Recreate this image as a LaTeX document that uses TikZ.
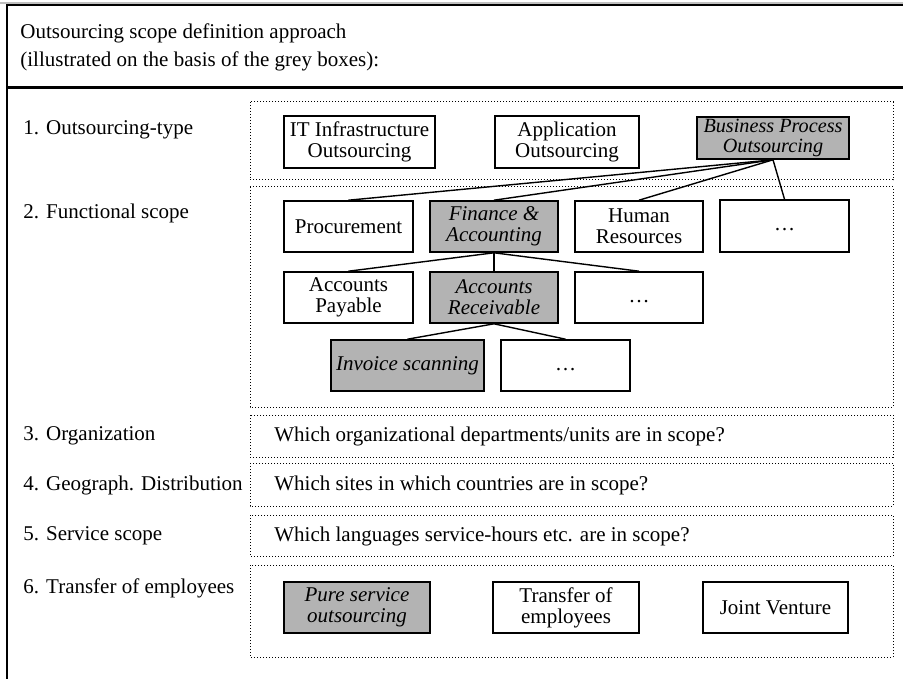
\documentclass[tikz,border=0pt]{standalone}
\usepackage{fontspec}
\setmainfont{Liberation Serif}
\definecolor{boxgrey}{RGB}{179,179,179}
\newcommand\boxat[7]{\node[#7, minimum width={(#4-#2)*0.5pt}, minimum height={(#5-#3)*0.5pt}] (#1) at ({(#2+#4)/2},{(#3+#5)/2}) {#6};}
\newcommand\ellip{\vphantom{Ag}…}
\begin{document}
\begin{tikzpicture}[x=0.5pt,y=-0.5pt,
  every node/.style={font=\fontsize{10.5}{10.5}\selectfont, inner sep=0pt},
  bx/.style={draw=black, line width=0.8pt, align=center, fill=white},
  gbx/.style={bx, fill=boxgrey, font=\fontsize{10.5}{10.5}\selectfont\itshape},
  zone/.style={draw=black, densely dotted, line width=0.5pt},
  lbl/.style={anchor=west},
  link/.style={draw=black, line width=0.7pt}]
\useasboundingbox (0,0) rectangle (903,679);
% frame
\draw[gray!50, line width=0.6pt] (0,3) -- (903,3);
\draw[line width=1pt] (6,5.5) -- (903,5.5);
\draw[line width=1pt] (6.5,5) -- (6.5,679);
\draw[line width=1.2pt] (6,87.5) -- (903,87.5);
% title
\node[anchor=west, align=left, font=\fontsize{10.5}{14}\selectfont] (title) at (20,47)
  {Outsourcing scope definition approach\\(illustrated on the basis of the grey boxes):};
% zones
\draw[zone] (250,102) rectangle (893,180);
\draw[zone] (250,187) rectangle (893,407);
\draw[zone] (250,415) rectangle (893,457);
\draw[zone] (250,463) rectangle (893,506);
\draw[zone] (250,515) rectangle (893,556);
\draw[zone] (250,565) rectangle (893,657);
% row labels
\node[lbl] (l1) at (23,130) {1. Outsourcing-type};
\node[lbl] (l2) at (23,213) {2. Functional scope};
\node[lbl] (l3) at (23,436) {3. Organization};
\node[lbl] (l4) at (23,485) {4. Geograph. Distribution};
\node[lbl] (l5) at (23,536) {5. Service scope};
\node[lbl] (l6) at (23,588) {6. Transfer of employees};
% questions
\node[lbl] (q3) at (274,436) {Which organizational departments/units are in scope?};
\node[lbl] (q4) at (274,485) {Which sites in which countries are in scope?};
\node[lbl] (q5) at (274,536) {Which languages service-hours etc. are in scope?};
% boxes
\boxat{it}{284}{116}{435}{168}{IT Infrastructure\\Outsourcing}{bx}
\boxat{app}{495}{116}{639}{168}{Application\\Outsourcing}{bx}
\boxat{bpo}{697}{117}{849}{159}{Business Process\\Outsourcing}{gbx, font=\fontsize{10.1}{10}\selectfont\itshape}
\boxat{proc}{284}{201}{413}{252}{Procurement}{bx}
\boxat{fin}{430}{201}{558}{252}{Finance \&\\Accounting}{gbx}
\boxat{hr}{575}{201}{703}{252}{Human\\Resources}{bx}
\boxat{fdots}{720}{200}{849}{252}{\ellip}{bx}
\boxat{ap}{284}{272}{413}{323}{Accounts\\Payable}{bx}
\boxat{ar}{430}{272}{558}{323}{Accounts\\Receivable}{gbx}
\boxat{adots}{575}{272}{703}{323}{\ellip}{bx}
\boxat{inv}{331}{340}{484}{391}{Invoice scanning}{gbx}
\boxat{idots}{501}{340}{630}{391}{\ellip}{bx}
\boxat{pure}{284}{582}{430}{633}{Pure service\\outsourcing}{gbx}
\boxat{trans}{493}{582}{639}{633}{Transfer of\\employees}{bx}
\boxat{jv}{703}{582}{848}{633}{Joint Venture}{bx}
% connectors
\draw[link] (bpo.south) -- (proc.north);
\draw[link] (bpo.south) -- (fin.north);
\draw[link] (bpo.south) -- (hr.north);
\draw[link] (bpo.south) -- (fdots.north);
\draw[link] (fin.south) -- (ap.north);
\draw[link] (fin.south) -- (ar.north);
\draw[link] (fin.south) -- (adots.north);
\draw[link] (ar.south) -- (inv.north);
\draw[link] (ar.south) -- (idots.north);
\end{tikzpicture}
\end{document}
